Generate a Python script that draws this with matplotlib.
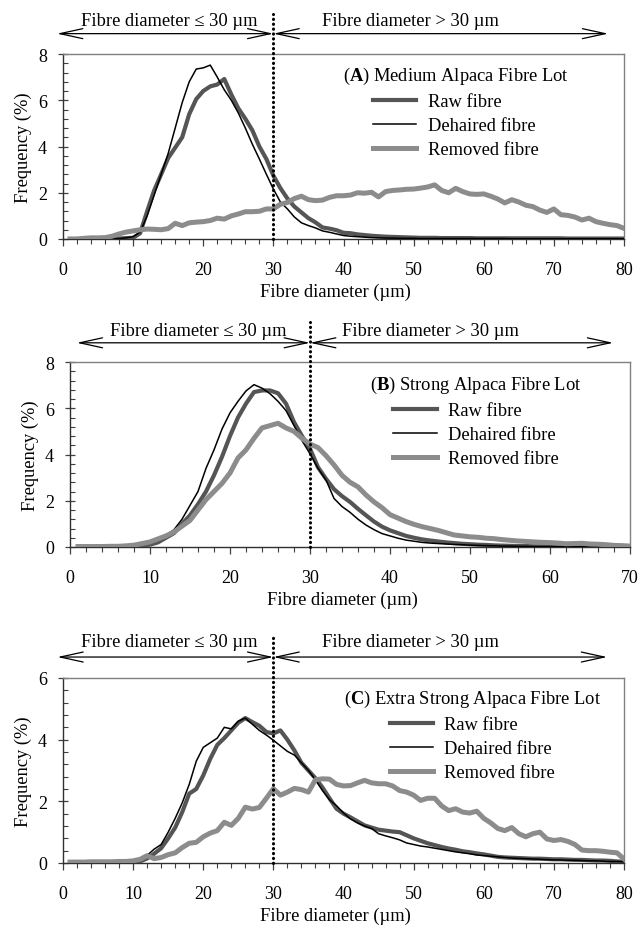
import matplotlib
matplotlib.use('Agg')
import matplotlib.pyplot as plt
from matplotlib.ticker import MultipleLocator

plt.rcParams['font.family'] = ['Liberation Serif', 'DejaVu Serif']
plt.rcParams['mathtext.fontset'] = 'custom'
plt.rcParams['mathtext.rm'] = 'Liberation Serif'
plt.rcParams['mathtext.bf'] = 'Liberation Serif:bold'

# ---------------- data ----------------
diam_A = list(range(1, 81))
raw_A = [0, 0, 0, 0, 0, 0, 0.01, 0.02, 0.04, 0.05,
         0.25, 1.2, 2.1, 2.8, 3.5, 3.95, 4.4, 5.4, 6.05, 6.4,
         6.6, 6.68, 6.92, 6.25, 5.65, 5.2, 4.7, 4.0, 3.46, 2.74,
         2.2, 1.75, 1.4, 1.15, 0.9, 0.72, 0.5, 0.45, 0.38, 0.27,
         0.25, 0.2, 0.17, 0.14, 0.12, 0.1, 0.09, 0.08, 0.07, 0.06,
         0.05, 0.05, 0.05, 0.04, 0.04, 0.04, 0.04, 0.04, 0.03, 0.03,
         0.03, 0.03, 0.03, 0.03, 0.03, 0.03, 0.03, 0.03, 0.03, 0.03,
         0.03, 0.02, 0.02, 0.02, 0.02, 0.02, 0.02, 0.02, 0.02, 0.02]
dehaired_A = [0, 0, 0, 0, 0, 0, 0.01, 0.02, 0.05, 0.1,
              0.3, 1.0, 1.9, 2.8, 3.7, 4.8, 5.9, 6.8, 7.35, 7.4,
              7.52, 7.0, 6.45, 6.0, 5.45, 4.8, 4.1, 3.46, 2.8, 2.16,
              1.6, 1.3, 0.95, 0.7, 0.58, 0.48, 0.35, 0.29, 0.22, 0.15,
              0.12, 0.1, 0.08, 0.06, 0.05, 0.04, 0.04, 0.03, 0.03, 0.03,
              0.02, 0.02, 0.02, 0.02, 0.02, 0.02, 0.02, 0.02, 0.02, 0.02,
              0.02, 0.02, 0.02, 0.01, 0.01, 0.01, 0.01, 0.01, 0.01, 0.01,
              0.01, 0.01, 0.01, 0.01, 0.01, 0.01, 0.01, 0.01, 0.01, 0.01]
removed_A = [0, 0, 0.03, 0.05, 0.05, 0.06, 0.12, 0.22, 0.3, 0.35,
             0.4, 0.43, 0.42, 0.4, 0.45, 0.68, 0.58, 0.7, 0.73, 0.75,
             0.8, 0.9, 0.86, 1.0, 1.08, 1.18, 1.18, 1.2, 1.3, 1.3,
             1.5, 1.58, 1.75, 1.85, 1.7, 1.66, 1.68, 1.8, 1.87, 1.87,
             1.9, 2.0, 1.98, 2.02, 1.82, 2.05, 2.1, 2.12, 2.15, 2.16,
             2.2, 2.25, 2.34, 2.1, 2.0, 2.19, 2.05, 1.95, 1.93, 1.95,
             1.85, 1.73, 1.56, 1.7, 1.6, 1.46, 1.4, 1.25, 1.15, 1.3,
             1.05, 1.02, 0.95, 0.82, 0.9, 0.75, 0.68, 0.62, 0.58, 0.46]

diam_B = list(range(1, 71))
raw_B = [0, 0, 0, 0.01, 0.01, 0.02, 0.03, 0.05, 0.07, 0.1,
         0.2, 0.4, 0.6, 1.0, 1.37, 1.85, 2.4, 3.1, 3.9, 4.8,
         5.6, 6.2, 6.7, 6.77, 6.77, 6.65, 6.2, 5.4, 4.8, 4.25,
         3.45, 2.95, 2.5, 2.2, 1.95, 1.65, 1.37, 1.1, 0.88, 0.72,
         0.6, 0.48, 0.4, 0.33, 0.28, 0.24, 0.2, 0.17, 0.14, 0.12,
         0.1, 0.09, 0.07, 0.06, 0.05, 0.04, 0.04, 0.03, 0.03, 0.03,
         0.02, 0.02, 0.02, 0.02, 0.02, 0.02, 0.02, 0.02, 0.02, 0.02]
dehaired_B = [0, 0, 0, 0.01, 0.01, 0.02, 0.03, 0.06, 0.12, 0.2,
              0.3, 0.5, 0.75, 1.2, 1.8, 2.4, 3.4, 4.2, 5.1, 5.8,
              6.3, 6.75, 7.02, 6.87, 6.63, 6.3, 5.9, 5.25, 4.6, 4.03,
              3.4, 2.9, 2.1, 1.75, 1.5, 1.2, 0.95, 0.75, 0.58, 0.48,
              0.38, 0.3, 0.25, 0.2, 0.17, 0.15, 0.13, 0.11, 0.1, 0.08,
              0.07, 0.06, 0.05, 0.04, 0.04, 0.03, 0.03, 0.02, 0.02, 0.02,
              0.01, 0.01, 0.01, 0.01, 0.01, 0.01, 0.01, 0.01, 0.01, 0.01]
removed_B = [0.02, 0.02, 0.02, 0.02, 0.03, 0.03, 0.05, 0.08, 0.15, 0.22,
             0.35, 0.48, 0.65, 0.9, 1.15, 1.6, 2.05, 2.4, 2.75, 3.2,
             3.85, 4.2, 4.7, 5.15, 5.25, 5.35, 5.15, 5.0, 4.7, 4.45,
             4.3, 3.95, 3.55, 3.1, 2.8, 2.6, 2.25, 1.95, 1.7, 1.4,
             1.25, 1.1, 0.98, 0.88, 0.8, 0.72, 0.62, 0.52, 0.48, 0.44,
             0.42, 0.38, 0.36, 0.32, 0.29, 0.26, 0.24, 0.22, 0.2, 0.19,
             0.17, 0.14, 0.15, 0.16, 0.13, 0.12, 0.1, 0.07, 0.06, 0.04]

diam_C = list(range(1, 81))
raw_C = [0, 0, 0, 0, 0.01, 0.01, 0.02, 0.02, 0.03, 0.03,
         0.05, 0.15, 0.3, 0.48, 0.8, 1.15, 1.65, 2.25, 2.4, 2.84,
         3.38, 3.83, 4.05, 4.3, 4.55, 4.7, 4.57, 4.45, 4.25, 4.2,
         4.3, 4.0, 3.65, 3.25, 3.0, 2.75, 2.45, 2.1, 1.76, 1.6,
         1.48, 1.35, 1.22, 1.15, 1.08, 1.05, 1.02, 1.0, 0.9, 0.8,
         0.72, 0.64, 0.58, 0.52, 0.47, 0.43, 0.38, 0.35, 0.31, 0.28,
         0.24, 0.2, 0.18, 0.17, 0.16, 0.15, 0.14, 0.14, 0.13, 0.12,
         0.12, 0.11, 0.1, 0.1, 0.09, 0.08, 0.08, 0.07, 0.05, 0.04]
dehaired_C = [0, 0, 0, 0, 0.01, 0.01, 0.02, 0.03, 0.04, 0.05,
              0.08, 0.25, 0.45, 0.6, 1.0, 1.45, 1.95, 2.55, 3.3, 3.75,
              3.9, 4.05, 4.4, 4.35, 4.6, 4.7, 4.5, 4.3, 4.15, 3.98,
              3.8, 3.62, 3.5, 3.25, 3.0, 2.7, 2.35, 2.05, 1.86, 1.62,
              1.43, 1.3, 1.2, 1.12, 0.95, 0.88, 0.82, 0.75, 0.65, 0.6,
              0.55, 0.52, 0.48, 0.44, 0.4, 0.36, 0.33, 0.3, 0.26, 0.24,
              0.22, 0.2, 0.18, 0.16, 0.15, 0.14, 0.13, 0.12, 0.11, 0.1,
              0.1, 0.09, 0.09, 0.08, 0.07, 0.07, 0.06, 0.05, 0.05, 0.04]
removed_C = [0.03, 0.03, 0.03, 0.04, 0.04, 0.04, 0.04, 0.05, 0.05, 0.07,
             0.12, 0.24, 0.14, 0.18, 0.27, 0.33, 0.5, 0.64, 0.67, 0.85,
             0.97, 1.05, 1.32, 1.22, 1.45, 1.81, 1.75, 1.8, 2.1, 2.41,
             2.2, 2.3, 2.42, 2.38, 2.3, 2.7, 2.73, 2.72, 2.55, 2.5,
             2.51, 2.6, 2.68, 2.6, 2.57, 2.57, 2.5, 2.35, 2.3, 2.2,
             2.03, 2.1, 2.1, 1.85, 1.7, 1.76, 1.65, 1.62, 1.68, 1.45,
             1.3, 1.12, 1.05, 1.15, 0.95, 0.85, 0.95, 1.0, 0.78, 0.73,
             0.76, 0.7, 0.6, 0.42, 0.4, 0.4, 0.38, 0.35, 0.33, 0.13]

series_labels = ['Raw fibre', 'Dehaired fibre', 'Removed fibre']
panel_letters = ['A', 'B', 'C']
panel_names = ['Medium Alpaca Fibre Lot', 'Strong Alpaca Fibre Lot',
               'Extra Strong Alpaca Fibre Lot']
x_max = [80, 70, 80]
y_max = [8, 8, 6]
threshold = 30
left_text = 'Fibre diameter \u2264 30 \u00b5m'
right_text = 'Fibre diameter > 30 \u00b5m'
xlabel = 'Fibre diameter (\u00b5m)'
ylabel = 'Frequency (%)'

# ---------------- layout / style ----------------
W, H = 638, 929
fig = plt.figure(figsize=(W / 100, H / 100), dpi=100)

# axes boxes in pixels: left, right, top, bottom
boxes = [(63, 624, 55, 240), (70, 630, 363, 548), (63, 624, 679, 864)]
# arrow layout (data coords): left tip, right tip, y of arrows, y of text,
# text centres, top of dotted line
arrow_cfg = [(-0.86, 77.75, 8.88, 9.45, 15.1, 49.5, 9.74),
             (0.84, 67.9, 8.83, 9.35, 16.0, 45.1, 9.74),
             (-0.81, 77.6, 6.68, 7.17, 15.15, 49.5, 7.4)]
legend_anchor = [(0.70, 0.99), (0.725, 0.985), (0.73, 0.995)]
xlabel_pos = [0.485, 0.486, 0.485]

col_raw = '#555555'
col_deh = '#000000'
col_rem = '#8c8c8c'
fs = 13.3
tfs = 13

data = [(diam_A, raw_A, dehaired_A, removed_A),
        (diam_B, raw_B, dehaired_B, removed_B),
        (diam_C, raw_C, dehaired_C, removed_C)]

for i in range(3):
    l, r, t, b = boxes[i]
    ax = fig.add_axes([l / W, 1 - b / H, (r - l) / W, (b - t) / H])
    d, raw, deh, rem = data[i]
    ax.plot(d, raw, color=col_raw, lw=3.0, solid_joinstyle='round',
            label=series_labels[0], zorder=3)
    ax.plot(d, deh, color=col_deh, lw=1.1, label=series_labels[1], zorder=4)
    ax.plot(d, rem, color=col_rem, lw=3.6, solid_joinstyle='round',
            label=series_labels[2], zorder=5)

    ax.set_xlim(0, x_max[i])
    ax.set_ylim(0, y_max[i])
    ax.xaxis.set_major_locator(MultipleLocator(10))
    ax.xaxis.set_minor_locator(MultipleLocator(2))
    ax.yaxis.set_major_locator(MultipleLocator(2))
    ax.yaxis.set_minor_locator(MultipleLocator(0.4))
    ax.tick_params(axis='x', which='major', labelsize=tfs, length=5,
                   width=0.9, color='#404040', direction='out', pad=10.5)
    ax.tick_params(axis='x', which='minor', length=3.6, width=0.8,
                   color='#404040', direction='out')
    ax.tick_params(axis='y', which='major', labelsize=tfs, length=7.2,
                   width=0.9, color='#404040', direction='inout', pad=8)
    ax.tick_params(axis='y', which='minor', length=3.6, width=0.8,
                   color='#404040', direction='in')
    for s in ['top', 'right']:
        ax.spines[s].set_color('#808080')
        ax.spines[s].set_linewidth(1.0)
    for s in ['left', 'bottom']:
        ax.spines[s].set_color('#303030')
        ax.spines[s].set_linewidth(1.0)

    ax.set_xlabel(xlabel, fontsize=fs, labelpad=4, x=xlabel_pos[i])
    ax.set_ylabel(ylabel, fontsize=fs, labelpad=4)

    lt, rt, ya, yt, xlt, xrt, ytop = arrow_cfg[i]
    # dotted threshold line
    ax.plot([threshold, threshold], [0, ytop], color='black', lw=2.2,
            linestyle=(0, (0.1, 1.5)), dash_capstyle='round', clip_on=False,
            zorder=6)
    for x0, x1 in [(lt, threshold), (threshold, rt)]:
        ax.annotate('', xy=(x0, ya), xytext=(x1, ya), xycoords='data',
                    textcoords='data', annotation_clip=False,
                    arrowprops=dict(arrowstyle='<->,head_length=1.65,head_width=0.36',
                                    color='black', lw=0.9,
                                    mutation_scale=10,
                                    shrinkA=0, shrinkB=0))
    ax.text(xlt, yt, left_text, ha='center', va='center', fontsize=fs,
            clip_on=False)
    ax.text(xrt, yt, right_text, ha='center', va='center', fontsize=fs,
            clip_on=False)

    title = r'($\mathbf{' + panel_letters[i] + r'}$) ' + panel_names[i]
    leg = ax.legend(title=title, loc='upper center',
                    bbox_to_anchor=legend_anchor[i], frameon=False,
                    fontsize=fs, title_fontsize=fs,
                    handlelength=2.35, handletextpad=0.6, labelspacing=0.38,
                    borderpad=0.0)
    leg._legend_box.align = 'center'

fig.savefig('out.png', dpi=100)
